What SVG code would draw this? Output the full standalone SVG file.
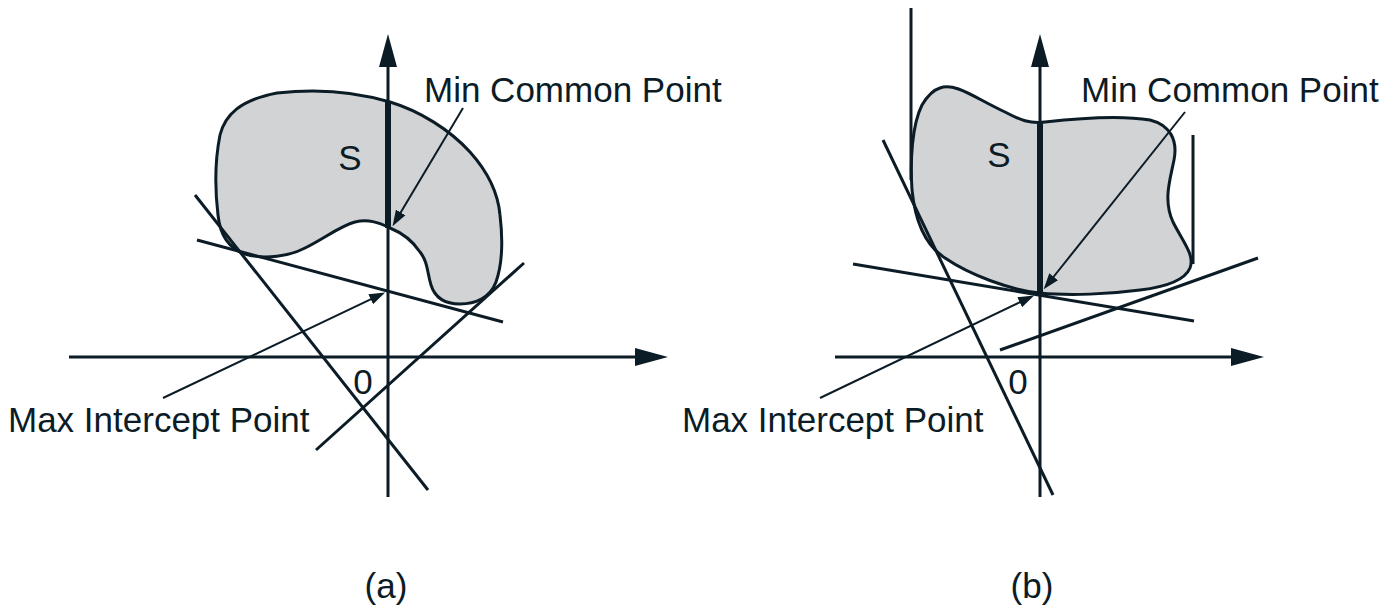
<svg xmlns="http://www.w3.org/2000/svg" width="1395" height="609" viewBox="0 0 1395 609">
<style>
.ln{stroke:#0c1c26;stroke-width:3;fill:none}
.thin{stroke:#0c1c26;stroke-width:2;fill:none}
.thick{stroke:#0c1c26;stroke-width:6;fill:none}
.blob{fill:#d1d3d5;stroke:#0c1c26;stroke-width:3}
text{font-family:"Liberation Sans",Arial,sans-serif;fill:#0c1c26;font-size:35px}
</style>
<defs>
<marker id="axisHead" viewBox="0 -10 34 20" markerWidth="34" markerHeight="20" refX="1" refY="0" orient="auto" markerUnits="userSpaceOnUse">
<path d="M0,-9 L33,0 L0,9 Z" fill="#0c1c26"/>
</marker>
<marker id="ptr" viewBox="0 -6 17 12" markerWidth="17" markerHeight="12" refX="1" refY="0" orient="auto" markerUnits="userSpaceOnUse">
<path d="M0,-5.5 L16,0 L0,5.5 Z" fill="#0c1c26"/>
</marker>
</defs>

<!-- Panel (a) -->
<g id="blobA">
<path class="blob" d="M 277,93 C 320,88 360,93 390,102 C 420,111 450,130 470,152 C 488,172 498,192 500,215 C 503,240 503,262 496,282 C 490,298 475,304 460,304 C 445,304 435,298 431,285 C 427,272 428,262 420,252 C 412,240 400,232 390,228 C 378,222 368,219 355,222 C 340,226 325,238 305,248 C 290,256 265,260 245,254 C 228,248 220,235 218,215 C 215,190 215,160 220,135 C 225,115 240,100 277,93 Z"/>
<text x="350" y="170" text-anchor="middle">S</text>
</g>
<g id="axesA">
<line class="ln" x1="388" y1="497" x2="388" y2="66" marker-end="url(#axisHead)"/>
<line class="ln" x1="69" y1="357" x2="636" y2="357" marker-end="url(#axisHead)"/>
<line class="thick" x1="388" y1="101" x2="388" y2="228"/>
<text x="363" y="394" text-anchor="middle">0</text>
</g>
<g id="linesA">
<line class="ln" x1="195" y1="195" x2="428" y2="490"/>
<line class="ln" x1="197" y1="240" x2="503" y2="322"/>
<line class="ln" x1="316" y1="450" x2="524" y2="263"/>
</g>
<g id="labelsA">
<text x="424" y="102">Min Common Point</text>
<text x="8" y="432">Max Intercept Point</text>
<text x="386" y="598" text-anchor="middle">(a)</text>
</g>

<!-- Panel (b) -->
<g id="blobB">
<path class="blob" d="M 940,88 C 955,82 975,98 1005,112 C 1020,120 1030,124 1045,122 C 1080,118 1120,115 1150,120 C 1170,125 1178,140 1174,160 C 1170,180 1163,200 1173,222 C 1183,242 1195,255 1190,268 C 1185,280 1165,287 1140,290 C 1110,294 1070,296 1040,293 C 1010,290 970,275 945,258 C 925,245 915,220 912,190 C 910,160 912,125 922,105 C 928,95 933,90 940,88 Z"/>
<text x="999" y="167" text-anchor="middle">S</text>
</g>
<g id="axesB">
<line class="ln" x1="1040" y1="497" x2="1040" y2="66" marker-end="url(#axisHead)"/>
<line class="ln" x1="835" y1="357" x2="1232" y2="357" marker-end="url(#axisHead)"/>
<line class="thick" x1="1040" y1="122" x2="1040" y2="293"/>
<text x="1018" y="394" text-anchor="middle">0</text>
</g>
<g id="linesB">
<line class="ln" x1="911" y1="8" x2="911" y2="180"/>
<line class="ln" x1="1193" y1="135" x2="1193" y2="264"/>
<line class="ln" x1="883" y1="140" x2="1053" y2="495"/>
<line class="ln" x1="853" y1="264" x2="1194" y2="321"/>
<line class="ln" x1="1000" y1="350" x2="1258" y2="258"/>
</g>
<g id="labelsB">
<text x="1081" y="102">Min Common Point</text>
<text x="682" y="432">Max Intercept Point</text>
<text x="1032" y="598" text-anchor="middle">(b)</text>
</g>

<g id="connectors">
<line class="thin" x1="463" y1="108" x2="400.2" y2="213.3" marker-end="url(#ptr)"/>
<line class="thin" x1="163" y1="398" x2="371.6" y2="298.9" marker-end="url(#ptr)"/>
<line class="thin" x1="1185" y1="112" x2="1053" y2="277.5" marker-end="url(#ptr)"/>
<line class="thin" x1="820" y1="398" x2="1020.6" y2="301.9" marker-end="url(#ptr)"/>
</g>
</svg>
